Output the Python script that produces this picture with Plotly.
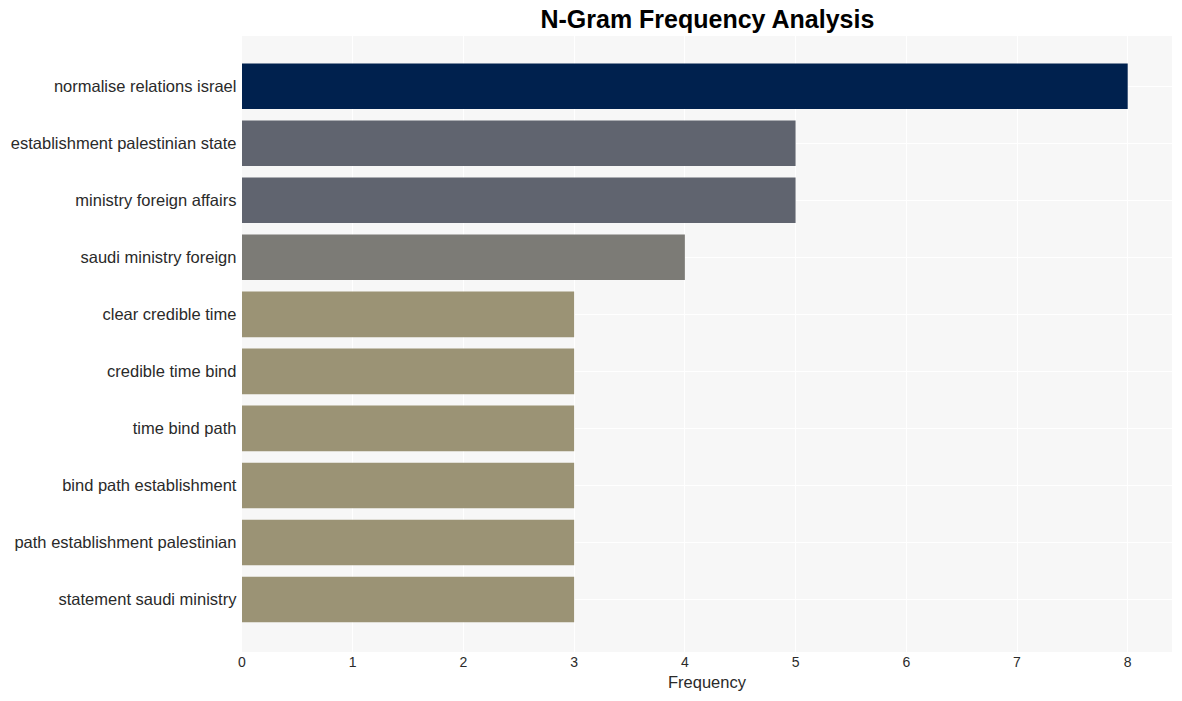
import plotly.graph_objects as go

categories = [
    "normalise relations israel",
    "establishment palestinian state",
    "ministry foreign affairs",
    "saudi ministry foreign",
    "clear credible time",
    "credible time bind",
    "time bind path",
    "bind path establishment",
    "path establishment palestinian",
    "statement saudi ministry",
]
values = [8, 5, 5, 4, 3, 3, 3, 3, 3, 3]
colors = ["#00214e", "#60646f", "#7c7b76", "#9b9375"]
color_map = {8: colors[0], 5: colors[1], 4: colors[2], 3: colors[3]}
bar_colors = [color_map[v] for v in values]

fig = go.Figure(go.Bar(
    x=values, y=categories, orientation="h",
    marker=dict(color=bar_colors, line=dict(width=0)),
    width=0.8,
))

fig.update_layout(
    width=1182, height=701,
    margin=dict(l=242, r=10, t=36, b=49),
    paper_bgcolor="white", plot_bgcolor="#f7f7f7",
    font=dict(family="Liberation Sans, Arial, sans-serif", color="#2a2a2a"),
    title=dict(text="<b>N-Gram Frequency Analysis</b>", x=0.5985, xanchor="center",
               y=0.972, yanchor="middle", font=dict(size=25, color="black")),
    xaxis=dict(range=[0, 8.4], dtick=1, gridcolor="white", gridwidth=1,
               zeroline=False, tickfont=dict(size=14),
               title=dict(text="Frequency", font=dict(size=16.5), standoff=7)),
    yaxis=dict(autorange=False, range=[9.92, -0.88], gridcolor="white",
               tickfont=dict(size=16.5), ticksuffix=" "),
    showlegend=False,
    bargap=0.2,
)

fig.write_html("out.html", config={"displayModeBar": False},
               post_script="document.body.style.margin='0';document.body.style.padding='0';")
